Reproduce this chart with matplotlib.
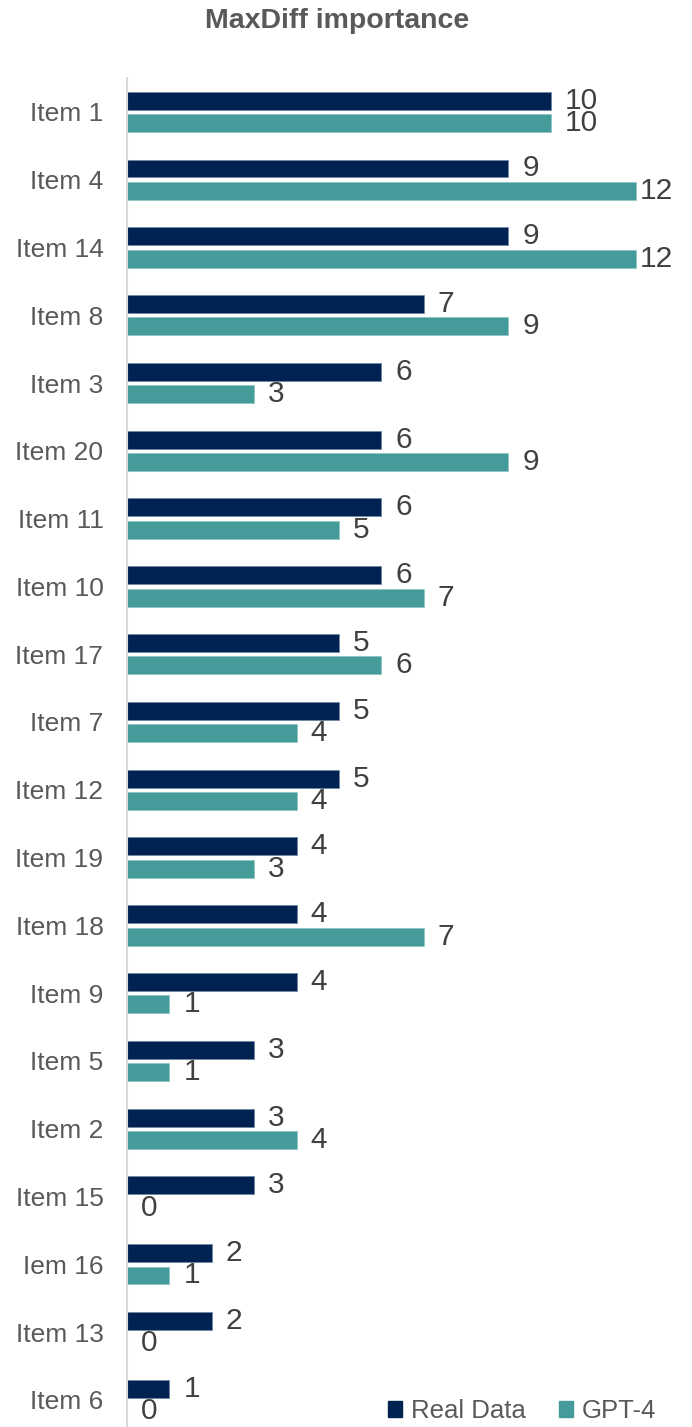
import matplotlib.pyplot as plt
import numpy as np
from matplotlib.patches import Patch

# MaxDiff importance scores per item: real survey vs GPT-4
items = ["Item 1", "Item 4", "Item 14", "Item 8", "Item 3", "Item 20", "Item 11",
         "Item 10", "Item 17", "Item 7", "Item 12", "Item 19", "Item 18", "Item 9",
         "Item 5", "Item 2", "Item 15", "Iem 16", "Item 13", "Item 6"]
real_data = [10, 9, 9, 7, 6, 6, 6, 6, 5, 5, 5, 4, 4, 4, 3, 3, 3, 2, 2, 1]
gpt4 = [10, 12, 12, 9, 3, 9, 5, 7, 6, 4, 4, 3, 7, 1, 1, 4, 0, 1, 0, 0]

navy = "#002352"
teal = "#449b9a"

plt.rcParams['font.family'] = ['Liberation Sans', 'DejaVu Sans']

fig = plt.figure(figsize=(6.92, 14.27), dpi=100)
ax = fig.add_axes([127 / 692, 0.0, 551 / 692, 1 - 78 / 1427])

y = np.arange(len(items))
h = 0.265
off = 0.165

ax.barh(y - off, real_data, height=h, color=navy, edgecolor="#6d84a3", linewidth=0.5)
ax.barh(y + off, gpt4, height=h, color=teal, edgecolor="#8cc4c3", linewidth=0.5)

# value labels to the right of each bar; the longest ones sit a little closer
for yi, v in zip(y - off, real_data):
    ax.annotate(str(v), (v, yi), xytext=(10, 0), textcoords="offset points",
                va="center", ha="left", fontsize=21.5, color="#404040")
for yi, v in zip(y + off, gpt4):
    dx = 3 if v >= 12 else 10
    ax.annotate(str(v), (v, yi), xytext=(dx, 0), textcoords="offset points",
                va="center", ha="left", fontsize=21.5, color="#404040")

ax.set_xlim(0, 13)
ax.set_ylim(19.4, -0.5)
ax.set_yticks(y)
ax.set_yticklabels(items, fontsize=19, color="#595959")
ax.set_xticks([])
ax.tick_params(axis="y", length=0, pad=17)

for side in ["top", "right", "bottom"]:
    ax.spines[side].set_visible(False)
ax.spines["left"].set_color("#d9d9d9")
ax.spines["left"].set_linewidth(1.5)

fig.text(337 / 692, 1 - 21 / 1427, "MaxDiff importance", ha="center", va="center",
         fontsize=20.5, fontweight="bold", color="#595959")

handles = [Patch(color=navy, label="Real Data"), Patch(color=teal, label="GPT-4")]
fig.legend(handles=handles, loc="center", bbox_to_anchor=(522 / 692, 1 - 1411 / 1427),
           ncol=2, frameon=False, fontsize=18.5, handlelength=0.55, handleheight=0.55,
           handletextpad=0.35, columnspacing=1.3, labelcolor="#595959")

fig.savefig("out.png", dpi=100)
